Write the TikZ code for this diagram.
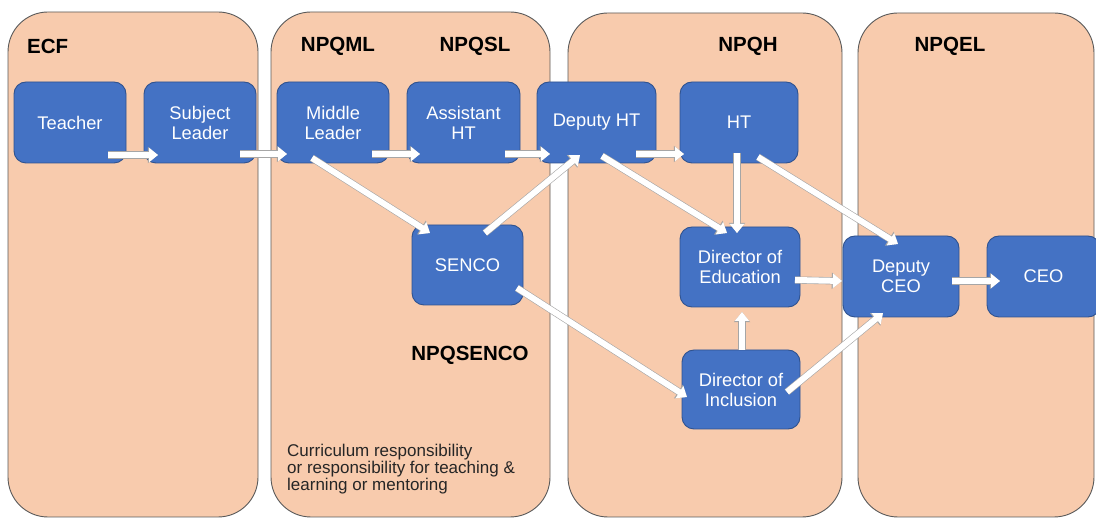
\documentclass[tikz,border=0pt]{standalone}
\usepackage{fontspec}
\setmainfont{Liberation Sans}
\usetikzlibrary{arrows.meta,calc}
\definecolor{boxblue}{HTML}{4472C4}
\definecolor{boxedge}{HTML}{2F528F}
\definecolor{peach}{HTML}{F8CBAD}
\definecolor{paneledge}{HTML}{5A5A5A}
\tikzset{
  panel/.style={draw=paneledge, line width=0.9pt, fill=peach, rounded corners=40pt},
  rolebox/.style={draw=boxedge, line width=0.9pt, fill=boxblue, rounded corners=12pt,
    text=white, align=center, inner sep=0pt,
    font=\fontsize{18.3}{20}\selectfont},
  qual/.style={font=\fontsize{20.5}{23}\selectfont\bfseries, text=black, inner sep=0pt},
  note/.style={font=\fontsize{17}{17}\selectfont, text=black!85, align=left, inner sep=0pt},
  flow/.style={draw=white, line width=6pt,
    -{Triangle[width=14pt,length=9pt,fill=white,color=white]},
    preaction={draw=black!35, line width=7.2pt,
      -{Triangle[width=15.8pt,length=10.2pt,fill=black!35,color=black!35]}}},
}
\begin{document}
\begin{tikzpicture}[x=1pt,y=-1pt]
\useasboundingbox (0,0) rectangle (1096,518);
\fill[white] (0,0) rectangle (1096,518);
% panels
\draw[panel] (8,12) rectangle (258,517);
\draw[panel] (271,12) rectangle (550,517);
\draw[panel] (568,13) rectangle (842,517);
\draw[panel] (858,13) rectangle (1094,517);
% qualification labels
\node[qual, anchor=west] (ecf) at (27,46) {ECF};
\node[qual] (npqml) at (338,46) {NPQML};
\node[qual] (npqsl) at (475,46) {NPQSL};
\node[qual] (npqh) at (748,46) {NPQH};
\node[qual] (npqel) at (950,46) {NPQEL};
\node[qual] (npqsenco) at (470,355) {NPQSENCO};
\node[note, anchor=north west] (curric) at (287,444)
  {Curriculum responsibility\\or responsibility for teaching \&\\learning or mentoring};
% role boxes
\node[rolebox, minimum width=112pt, minimum height=81pt] (teacher) at (70,122.5) {Teacher};
\node[rolebox, minimum width=112pt, minimum height=81pt] (subject) at (200,122.5) {Subject\\Leader};
\node[rolebox, minimum width=112pt, minimum height=81pt] (middle) at (333,122.5) {Middle\\Leader};
\node[rolebox, minimum width=113pt, minimum height=81pt] (asst) at (463.5,122.5) {Assistant\\HT};
\node[rolebox, minimum width=119pt, minimum height=81pt] (deputy) at (596.5,122.5) {Deputy HT};
\node[rolebox, minimum width=118pt, minimum height=81pt] (ht) at (739,122.5) {HT};
\node[rolebox, minimum width=111pt, minimum height=80pt] (senco) at (467.5,265) {SENCO};
\node[rolebox, minimum width=120pt, minimum height=80pt] (dired) at (740,267) {Director of\\Education};
\node[rolebox, minimum width=118pt, minimum height=79pt] (dirinc) at (741,389.5) {Director of\\Inclusion};
\node[rolebox, minimum width=116pt, minimum height=81pt] (dceo) at (901,276.5) {Deputy\\CEO};
\node[rolebox, minimum width=113pt, minimum height=81pt] (ceo) at (1043.5,276.5) {CEO};
% arrows
\draw[flow] ($(teacher.center)+(38,32.5)$) -- ($(subject.center)+(-42,32.5)$);
\draw[flow] ($(subject.center)+(40,31.5)$) -- ($(middle.center)+(-46,31.5)$);
\draw[flow] ($(middle.center)+(39,31.5)$) -- ($(asst.center)+(-43.5,31.5)$);
\draw[flow] ($(asst.center)+(41.5,31.5)$) -- ($(deputy.center)+(-46.5,31.5)$);
\draw[flow] ($(deputy.center)+(39.5,31.5)$) -- ($(ht.center)+(-55,31.5)$);
\draw[flow] ($(middle.center)+(-21,35.5)$) -- ($(senco.center)+(-37.5,-32)$);
\draw[flow] ($(senco.center)+(17.5,-32)$) -- ($(deputy.center)+(-16.5,32.5)$);
\draw[flow] ($(deputy.center)+(5.5,33.5)$) -- ($(dired.center)+(-13,-34)$);
\draw[flow] ($(ht.center)+(-2,30.5)$) -- ($(dired.center)+(-3,-34)$);
\draw[flow] ($(ht.center)+(19,34.5)$) -- ($(dceo.center)+(-3,-32.5)$);
\draw[flow] ($(senco.center)+(49.5,23)$) -- ($(dirinc.center)+(-54,7.5)$);
\draw[flow] ($(dirinc.center)+(1,-39.5)$) -- ($(dired.center)+(2,45)$);
\draw[flow] ($(dired.center)+(55,13)$) -- ($(dceo.center)+(-59,4.5)$);
\draw[flow] ($(dirinc.center)+(46,2.5)$) -- ($(dceo.center)+(-18,36.5)$);
\draw[flow] ($(dceo.center)+(51,4.5)$) -- ($(ceo.center)+(-43.5,4.5)$);
\end{tikzpicture}
\end{document}
